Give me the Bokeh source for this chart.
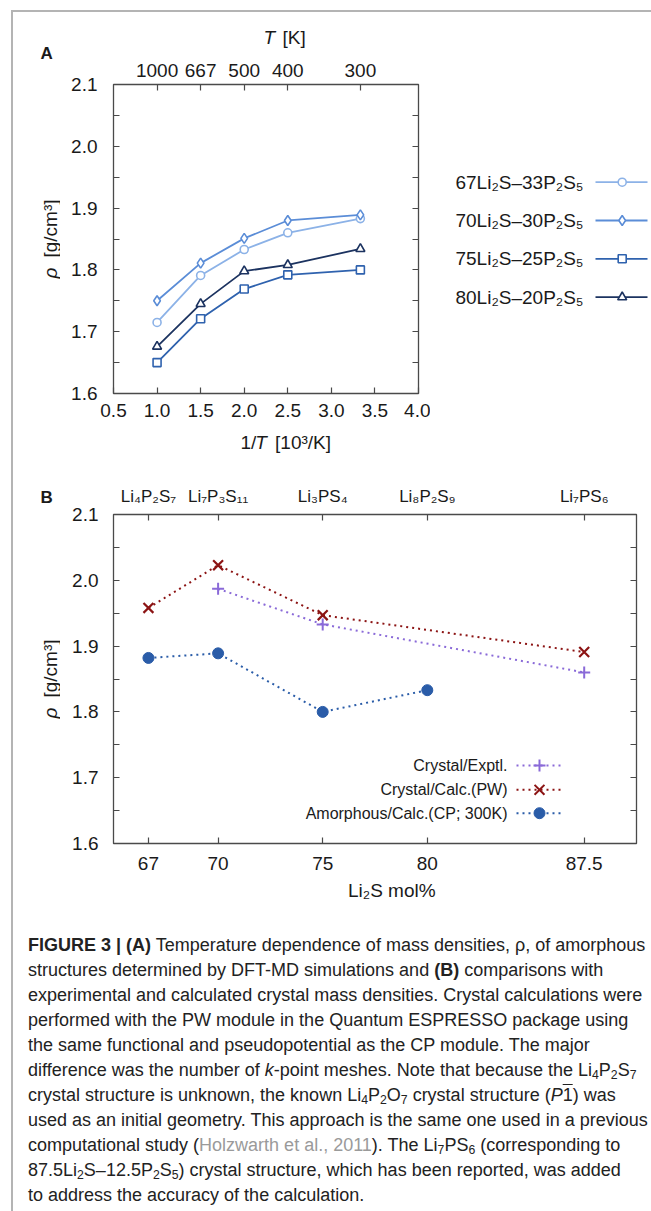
from math import pi
from bokeh.plotting import figure
from bokeh.models import (LinearAxis, FixedTicker, Range1d, Label, Div, PrintfTickFormatter,
                          CustomLabelingPolicy)
from bokeh.layouts import column, row
from bokeh.embed import file_html
from bokeh.resources import INLINE
from bokeh.core.properties import value

FONT = "Liberation Sans"
INK = "#1a1a1a"
FRAME = "#4a4a4a"

# ---------------- Panel A data ----------------
inv_T = [1.0, 1.5, 2.0, 2.5, 3.333]            # 1/T [10^3/K]
T_K_labels = ["1000", "667", "500", "400", "300"]
A_xticks = [0.5, 1.0, 1.5, 2.0, 2.5, 3.0, 3.5, 4.0]
rho_yticks = [1.6, 1.7, 1.8, 1.9, 2.0, 2.1]
rho_yminor = [1.65, 1.75, 1.85, 1.95, 2.05]
rho_67 = [1.715, 1.791, 1.833, 1.860, 1.883]
rho_70 = [1.750, 1.811, 1.851, 1.880, 1.889]
rho_75 = [1.650, 1.721, 1.769, 1.792, 1.800]
rho_80 = [1.676, 1.745, 1.798, 1.808, 1.834]
A_names = ["67Li₂S–33P₂S₅", "70Li₂S–30P₂S₅", "75Li₂S–25P₂S₅", "80Li₂S–20P₂S₅"]

# ---------------- Panel B data ----------------
mol = [66.67, 70, 75, 80, 87.5]
mol_labels = ["67", "70", "75", "80", "87.5"]
phase_labels = ["Li₄P₂S₇", "Li₇P₃S₁₁", "Li₃PS₄", "Li₈P₂S₉", "Li₇PS₆"]
exptl_x = [70, 75, 87.5]
exptl_y = [1.987, 1.933, 1.860]
pw_x = [66.67, 70, 75, 87.5]
pw_y = [1.958, 2.023, 1.947, 1.891]
cp_x = [66.67, 70, 75, 80]
cp_y = [1.882, 1.889, 1.800, 1.833]
B_names = ["Crystal/Exptl.", "Crystal/Calc.(PW)", "Amorphous/Calc.(CP; 300K)"]

# ---------------- styles / page geometry (page pixels) ----------------
A_colors = ["#8cb2e7", "#5b8dd7", "#2f62ae", "#1c3360"]
A_markers = ["circle", "diamond", "square", "triangle"]
A_sizes = [8, 10, 8, 9]
EXP_C, PW_C, CP_C = "#8a6ad8", "#8c1414", "#2a5ca8"

OX, OY = 13, 12          # content origin (inside the page border)
STRIP_X = 60             # right edge of the left text strip
A_TOP_STRIP = 52         # bottom of strip above panel A
A_BOT_STRIP = 430        # top of strip below panel A
A_END = 470              # end of panel A row
LEG_X = 430              # left edge of legend canvas of A
B_BOT_STRIP = 880
B_END = 910
A_FR = (113, 418, 84, 393)   # frame l, r, t, b
B_FR = (113, 636, 514, 843)

hide_labels = CustomLabelingPolicy(code="""
const n = indices.size
if (typeof indices.unset === "function") { for (let i = 0; i < n; i++) indices.unset(i); return indices }
if (typeof indices.set === "function") { for (let i = 0; i < n; i++) indices.set(i, false); return indices }
return indices
""")


def strip(x0, y0, x1, y1):
    w, h = x1 - x0, y1 - y0
    p = figure(width=w, height=h, x_range=Range1d(0, w), y_range=Range1d(0, h),
               output_backend="svg", toolbar_location=None, min_border=0, title=None,
               x_axis_location=None, y_axis_location=None)
    p.grid.visible = False
    p.outline_line_color = None

    # sy is the vertical centre of the text (page px)
    def put(sx, sy, text, size, align="left", style="normal", angle=0.0, color=INK):
        p.text([sx - x0], [y1 - sy], text=[text], text_font=value(FONT),
               text_font_size=f"{size}px", text_font_style=style, text_align=align,
               text_baseline="middle", angle=angle, text_color=color)
    return p, put


def style_axis(ax, ticks, minor=(), overrides=None, font_size="19px", standoff=10,
               show=True, fmt=None):
    ax.ticker = FixedTicker(ticks=list(ticks), minor_ticks=list(minor))
    if fmt is not None:
        ax.formatter = fmt
    if overrides:
        ax.major_label_overrides = overrides
    ax.axis_line_color = None
    ax.major_tick_in = 6
    ax.major_tick_out = 0
    ax.minor_tick_in = 6
    ax.minor_tick_out = 0
    ax.major_tick_line_color = FRAME
    ax.minor_tick_line_color = FRAME
    ax.major_tick_line_width = 1.2
    ax.minor_tick_line_width = 1.2
    ax.major_label_text_font = FONT
    ax.major_label_text_font_size = font_size
    ax.major_label_text_color = INK
    ax.major_label_standoff = standoff
    if not show:
        ax.major_label_policy = hide_labels
        ax.major_label_text_font_size = "0px"
        ax.major_label_standoff = 0


def make_fig(x0, y0, x1, y1, fr, xr, yr):
    p = figure(width=x1 - x0, height=y1 - y0, x_range=Range1d(*xr), y_range=Range1d(*yr),
               output_backend="svg", toolbar_location=None, title=None,
               min_border_left=fr[0] - x0, min_border_right=x1 - fr[1],
               min_border_top=fr[2] - y0, min_border_bottom=y1 - fr[3])
    p.grid.visible = False
    p.outline_line_color = FRAME
    p.outline_line_width = 1.3
    return p


def mapper(fr, xr, yr):
    l, r, t, b = fr
    def f(sx, sy):
        return (xr[0] + (sx - l) / (r - l) * (xr[1] - xr[0]),
                yr[1] - (sy - t) / (b - t) * (yr[1] - yr[0]))
    return f


f1 = PrintfTickFormatter(format="%.1f")

# ================= Panel A =================
A_XR, A_YR = (0.5, 4.0), (1.6, 2.1)
pA = make_fig(STRIP_X, A_TOP_STRIP, LEG_X, A_BOT_STRIP, A_FR, A_XR, A_YR)
style_axis(pA.xaxis[0], A_xticks, fmt=f1, standoff=10)
style_axis(pA.yaxis[0], rho_yticks, rho_yminor, fmt=f1, standoff=16)
topA = LinearAxis()
pA.add_layout(topA, "above")
style_axis(topA, inv_T, overrides=dict(zip(inv_T, T_K_labels)), standoff=8)
rightA = LinearAxis()
pA.add_layout(rightA, "right")
style_axis(rightA, rho_yticks, rho_yminor, show=False)

for ys, c, mk, s in zip([rho_67, rho_70, rho_75, rho_80], A_colors, A_markers, A_sizes):
    pA.line(inv_T, ys, line_color=c, line_width=1.8)
    pA.scatter(inv_T, ys, marker=mk, size=s, fill_color="white", line_color=c, line_width=1.6)

leftA, putLA = strip(OX, OY, STRIP_X, A_END)
putLA(40, 52.5, "A", 17, style="bold")
putLA(50, 278, "ρ", 19, style="italic", angle=pi / 2)
putLA(50, 257, "[g/cm³]", 19, angle=pi / 2)

topStripA, putTA = strip(STRIP_X, OY, LEG_X, A_TOP_STRIP)
putTA(242, 37, "T", 19, style="italic")
putTA(265, 37, "[K]", 19)

botStripA, putBA = strip(STRIP_X, A_BOT_STRIP, LEG_X, A_END)
putBA(214, 442, "1/", 19)
putBA(232, 442, "T", 19, style="italic")
putBA(256, 442, "[10³/K]", 19)

# legend of A (own canvas at the right)
legA, _ = strip(LEG_X, OY, 651, A_END)
leg_y = [181.7, 220, 258.3, 296.7]
for name, c, mk, s, yy in zip(A_names, A_colors, A_markers, A_sizes, leg_y):
    ly = A_END - yy
    legA.line([595 - LEG_X, 647 - LEG_X], [ly, ly], line_color=c, line_width=1.8)
    legA.scatter([621.7 - LEG_X], [ly], marker=mk, size=s, fill_color="white",
                 line_color=c, line_width=1.6)
    legA.text([583 - LEG_X], [ly], text=[name], text_align="right", text_baseline="middle",
              text_font=value(FONT), text_font_size="19px", text_color=INK)

# ================= Panel B =================
B_XR, B_YR = (65, 90), (1.6, 2.1)
pB = make_fig(STRIP_X, A_END, 651, B_BOT_STRIP, B_FR, B_XR, B_YR)
mB = mapper(B_FR, B_XR, B_YR)
style_axis(pB.xaxis[0], mol, overrides=dict(zip(mol, mol_labels)), standoff=13)
style_axis(pB.yaxis[0], rho_yticks, rho_yminor, fmt=f1, standoff=15)
topB = LinearAxis()
pB.add_layout(topB, "above")
style_axis(topB, mol, overrides=dict(zip(mol, phase_labels)), font_size="17px", standoff=9)
rightB = LinearAxis()
pB.add_layout(rightB, "right")
style_axis(rightB, rho_yticks, rho_yminor, show=False)

pB.line(exptl_x, exptl_y, line_color=EXP_C, line_width=2, line_dash="2 4")
pB.line(pw_x, pw_y, line_color=PW_C, line_width=2, line_dash="2 4")
pB.line(cp_x, cp_y, line_color=CP_C, line_width=2, line_dash="2 4")
pB.scatter(exptl_x, exptl_y, marker="cross", size=12, line_color=EXP_C, line_width=2)
pB.scatter(pw_x, pw_y, marker="x", size=14, line_color=PW_C, line_width=2.2)
pB.scatter(cp_x, cp_y, marker="circle", size=11, fill_color=CP_C, line_color=CP_C)

legB_y = [765, 789.3, 812.7]
legB_style = [("cross", 12, EXP_C, None), ("x", 14, PW_C, None), ("circle", 11, CP_C, CP_C)]
for name, (mk, s, c, fc), yy in zip(B_names, legB_style, legB_y):
    x0, y0 = mB(516, yy)
    x1, _ = mB(560, yy)
    xm, _ = mB(539, yy)
    xt, _ = mB(507, yy)
    pB.line([x0, x1], [y0, y0], line_color=c, line_width=2, line_dash="2 4")
    pB.scatter([xm], [y0], marker=mk, size=s, line_color=c, fill_color=fc,
               line_width=2 if fc is None else 1)
    pB.add_layout(Label(x=xt, y=y0, text=name, text_font=FONT, text_font_size="16px",
                        text_align="right", text_baseline="middle", text_color=INK))

leftB, putLB = strip(OX, A_END, STRIP_X, B_END)
putLB(40, 497, "B", 17, style="bold")
putLB(50, 718, "ρ", 19, style="italic", angle=pi / 2)
putLB(50, 697, "[g/cm³]", 19, angle=pi / 2)

botStripB, putBB = strip(STRIP_X, B_BOT_STRIP, 651, B_END)
putBB(374.5, 890, "Li₂S mol%", 19, align="center")


# ================= Caption =================
def sub(s):
    return f'<span style="font-size:68%;vertical-align:-0.22em;line-height:0">{s}</span>'


cap_lines = [
    "<b>FIGURE 3 | (A)</b> Temperature dependence of mass densities, ρ, of amorphous",
    "structures determined by DFT-MD simulations and <b>(B)</b> comparisons with",
    "experimental and calculated crystal mass densities. Crystal calculations were",
    "performed with the PW module in the Quantum ESPRESSO package using",
    "the same functional and pseudopotential as the CP module. The major",
    f"difference was the number of <i>k</i>-point meshes. Note that because the Li{sub(4)}P{sub(2)}S{sub(7)}",
    f"crystal structure is unknown, the known Li{sub(4)}P{sub(2)}O{sub(7)} crystal structure "
    "(<i>P</i><span style='text-decoration:overline'>1</span>) was",
    "used as an initial geometry. This approach is the same one used in a previous",
    "computational study (<span style='color:#9a9a9a'>Holzwarth et al., 2011</span>). "
    f"The Li{sub(7)}PS{sub(6)} (corresponding to",
    f"87.5Li{sub(2)}S–12.5P{sub(2)}S{sub(5)}) crystal structure, which has been reported, was added",
    "to address the accuracy of the calculation.",
]
cap_html = ("<div style=\"font-family:'Liberation Sans';font-size:18px;line-height:25px;"
            "color:#222;padding:18px 0 0 10px;white-space:nowrap;\">"
            + "<br>".join(cap_lines) + "</div>")
cap = Div(text=cap_html, width=651 - OX, height=1211 - B_END, styles={"overflow": "hidden"})

layout = column(
    row(leftA, column(topStripA, pA, botStripA), legA),
    row(leftB, column(pB, botStripB)),
    cap,
    margin=(10, 0, 0, 11),
    styles={"border-top": "2px solid #b4b4b4", "border-left": "2px solid #b4b4b4"},
)

open("out.html", "w").write(file_html(layout, INLINE))
